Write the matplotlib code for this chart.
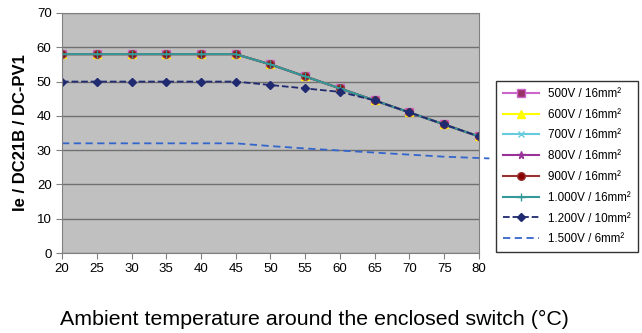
import matplotlib
matplotlib.use("Agg")
import matplotlib.pyplot as plt

plt.rcParams['font.family'] = ['Liberation Sans', 'DejaVu Sans']

temps = [20, 25, 30, 35, 40, 45, 50, 55, 60, 65, 70, 75, 80]
# all 16mm² series share the same curve
curve_16 = [58, 58, 58, 58, 58, 58, 55, 51.5, 48, 44.5, 41, 37.5, 34]
curve_1200 = [50, 50, 50, 50, 50, 50, 49, 48, 47, 44.5, 41, 37.5, 34]
temps_1500 = [20, 25, 30, 35, 40, 45, 50, 55, 60, 65, 70, 75, 81.5]
curve_1500 = [32, 32, 32, 32, 32, 32, 31.2, 30.5, 29.9, 29.3, 28.7, 28.1, 27.6]

labels = ['500V / 16mm²', '600V / 16mm²', '700V / 16mm²', '800V / 16mm²',
          '900V / 16mm²', '1.000V / 16mm²', '1.200V / 10mm²', '1.500V / 6mm²']

fig = plt.figure(figsize=(6.42, 3.33), dpi=100)
ax = fig.add_axes([0.0966, 0.240, 0.6494, 0.721])
ax.set_facecolor('#c0c0c0')

styles = [
    dict(color='#cc66cc', marker='s', ms=5.5, mfc='#993366', mec='#cc66cc'),
    dict(color='#ffff00', marker='^', ms=5.5),
    dict(color='#66ccdd', marker='x', ms=5),
    dict(color='#993399', marker='*', ms=5.5),
    dict(color='#993333', marker='o', ms=5.5, mfc='#8b0000'),
    dict(color='#339999', marker='+', ms=6),
]
for lab, st in zip(labels[:6], styles):
    ax.plot(temps, curve_16, lw=1.5, label=lab, **st)

ax.plot(temps, curve_1200, color='#1f2a70', ls='--', lw=1.3, marker='D', ms=4,
        label=labels[6])
ax.plot(temps_1500, curve_1500, color='#3366cc', ls=(0, (4, 2.5)), lw=1.3,
        label=labels[7], clip_on=False)

ax.set_xlim(20, 80)
ax.set_ylim(0, 70)
ax.set_xticks(range(20, 81, 5))
ax.set_yticks(range(0, 71, 10))
ax.yaxis.grid(True, color='#707070', lw=1)
ax.set_axisbelow(True)
for s in ax.spines.values():
    s.set_color('#808080')
ax.tick_params(colors='#808080', labelcolor='black', labelsize=9.5, length=4)

ax.set_ylabel('Ie / DC21B / DC-PV1', fontsize=12, fontweight='bold', labelpad=6)
fig.text(0.490, 0.025, 'Ambient temperature around the enclosed switch (°C)',
         ha='center', fontsize=15.4)

leg = fig.legend(loc='upper right', bbox_to_anchor=(638 / 642, 1 - 81 / 333),
                 borderaxespad=0, fontsize=8.4, frameon=True, fancybox=False,
                 edgecolor='black', handlelength=3.1, labelspacing=0.75,
                 borderpad=0.6)
leg.get_frame().set_linewidth(1)

fig.savefig('out.png', dpi=100)
